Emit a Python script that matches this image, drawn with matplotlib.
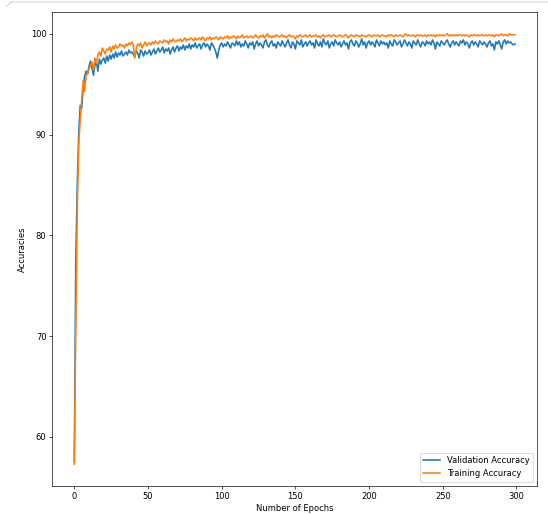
import numpy as np
import matplotlib.pyplot as plt
from matplotlib.lines import Line2D

# validation accuracy per epoch
val_acc = [
    57.5, 77.6, 85.0, 90.2, 92.9, 92.6, 94.5, 95.8, 96.3, 96.0, 96.8, 97.3, 96.6, 95.9, 96.9, 97.2, 96.3, 97.5, 97.0, 97.4,
    97.6, 97.1, 97.8, 97.3, 97.9, 97.5, 98.0, 97.6, 98.2, 97.7, 98.1, 97.9, 98.3, 97.8, 98.0, 98.2, 97.9, 98.4, 98.1, 98.2,
    98.0, 97.7, 98.3, 98.1, 97.6, 98.4, 98.2, 97.8, 98.3, 98.0, 98.1, 98.4, 97.9, 98.2, 98.5, 98.0, 98.3, 98.6, 98.2, 98.4,
    98.7, 98.1, 98.5, 98.3, 98.6, 98.0, 98.4, 98.7, 98.2, 98.6, 98.8, 98.3, 98.7, 98.5, 98.9, 98.4, 98.8, 98.6, 99.0, 98.5,
    98.9, 98.7, 99.1, 98.6, 98.8, 99.0, 98.5, 98.9, 99.1, 98.7, 99.0, 98.8, 98.4, 99.1, 98.9, 98.6, 98.2, 97.6, 98.4, 98.9,
    99.1, 98.7, 99.0, 98.8, 99.2, 98.9, 98.6, 99.1, 99.0, 98.8, 99.3, 98.9, 99.2, 98.7, 99.0, 98.8, 99.3, 99.0, 98.6, 99.1,
    98.9, 99.2, 98.5, 99.0, 99.3, 98.8, 99.1, 98.9, 98.6, 99.2, 99.4, 98.9, 98.7, 99.1, 99.3, 98.8, 99.0, 98.6, 99.2, 99.0,
    98.8, 99.3, 99.0, 98.7, 99.1, 99.4, 98.9, 98.6, 99.2, 99.0, 98.5, 99.3, 99.1, 98.9, 99.4, 98.7, 99.0, 99.2, 98.8, 99.1,
    99.3, 98.9, 99.1, 98.6, 99.4, 99.0, 98.8, 99.2, 98.7, 99.5, 99.1, 98.9, 99.3, 98.6, 99.0, 99.2, 98.8, 99.4, 99.1, 98.9,
    99.2, 98.7, 99.0, 99.3, 98.9, 99.1, 98.5, 99.2, 99.4, 99.0, 98.8, 99.3, 99.1, 98.7, 99.0, 99.5, 98.9, 99.2, 98.6, 99.1,
    99.3, 98.9, 99.2, 99.0, 98.7, 99.4, 99.1, 98.8, 99.3, 99.0, 99.2, 98.9, 99.1, 98.6, 99.3, 99.0, 98.8, 99.4, 99.2, 98.9,
    99.1, 99.3, 98.7, 99.0, 99.4, 99.1, 98.8, 99.2, 99.0, 98.6, 99.3, 99.1, 98.9, 99.4, 99.0, 98.7, 99.2, 99.1, 98.8, 99.3,
    99.0, 99.2, 98.9, 99.4, 99.1, 98.5, 99.2, 99.0, 98.8, 99.3, 99.1, 98.9, 99.2, 99.4, 99.0, 98.7, 99.1, 99.3, 98.9, 99.2,
    99.0, 98.8, 99.3, 99.1, 99.4, 98.9, 99.2, 99.0, 98.6, 99.1, 99.3, 98.9, 99.2, 99.0, 98.7, 99.3, 99.1, 98.9, 99.2, 99.0,
    98.7, 99.1, 99.3, 98.8, 99.0, 98.4, 99.2, 99.0, 99.3, 98.9, 98.5, 99.2, 99.4, 99.0, 99.3, 99.1, 99.2, 99.0, 98.9, 99.0,
]

# training accuracy per epoch
train_acc = [
    57.3, 70.5, 82.5, 89.0, 91.5, 93.5, 95.4, 94.3, 95.8, 96.1, 96.5, 96.9, 97.2, 96.4, 97.6, 97.1, 97.9, 98.2, 97.8, 98.6,
    98.3, 98.0, 98.5, 98.4, 98.7, 98.2, 98.8, 98.5, 98.9, 98.6, 98.7, 99.0, 98.8, 98.9, 98.6, 99.0, 98.8, 99.1, 98.9, 99.2,
    98.9, 97.6, 98.5, 99.0, 98.8, 99.1, 98.6, 98.9, 99.2, 98.8, 99.0, 99.1, 98.9, 99.2, 99.0, 99.3, 99.1, 99.0, 99.3, 99.2,
    99.1, 99.4, 99.2, 99.3, 99.0, 99.4, 99.2, 99.5, 99.3, 99.2, 99.4, 99.3, 99.5, 99.2, 99.4, 99.6, 99.3, 99.5, 99.4, 99.6,
    99.5, 99.3, 99.6, 99.4, 99.5, 99.6, 99.4, 99.7, 99.5, 99.3, 99.6, 99.5, 99.7, 99.4, 99.6, 99.5, 99.7, 99.6, 99.4, 99.7,
    99.6, 99.5, 99.7, 99.6, 99.8, 99.5, 99.7, 99.6, 99.8, 99.7, 99.5, 99.8, 99.6, 99.7, 99.9, 99.6, 99.7, 99.8, 99.6, 99.7,
    99.8, 99.6, 99.7, 99.9, 99.7, 99.6, 99.8, 99.7, 99.9, 99.6, 99.8, 100.0, 99.7, 99.8, 99.6, 99.8, 99.7, 99.9, 99.8, 99.7,
    99.8, 99.9, 99.7, 99.8, 99.6, 99.8, 99.9, 99.7, 99.8, 99.7, 99.5, 99.8, 99.7, 99.9, 99.8, 99.7, 99.8, 99.9, 99.7, 99.8,
    99.9, 99.7, 99.8, 99.8, 99.9, 99.7, 99.8, 99.6, 99.8, 99.9, 99.7, 99.8, 99.8, 99.9, 99.7, 99.8, 99.9, 99.8, 99.7, 99.8,
    99.9, 99.8, 99.7, 99.8, 99.9, 99.8, 99.6, 99.8, 99.9, 99.8, 99.7, 99.9, 99.8, 99.8, 99.7, 99.9, 99.8, 99.8, 99.7, 99.8,
    99.9, 99.8, 99.7, 99.9, 99.8, 99.8, 99.9, 99.7, 99.8, 99.9, 99.8, 99.8, 99.7, 99.9, 99.8, 99.9, 99.8, 99.7, 99.9, 99.8,
    99.8, 99.9, 99.8, 99.7, 99.9, 100.0, 99.8, 99.9, 99.8, 99.8, 99.9, 99.7, 99.8, 99.9, 99.8, 99.9, 99.8, 99.8, 99.9, 99.7,
    99.9, 99.8, 99.9, 99.8, 99.9, 99.7, 99.9, 99.8, 99.9, 99.8, 99.9, 99.8, 99.9, 100.0, 99.8, 99.9, 99.8, 99.9, 99.8, 99.9,
    99.8, 99.9, 99.9, 99.8, 99.9, 99.8, 99.9, 99.8, 99.7, 99.9, 99.8, 99.9, 99.9, 99.8, 99.9, 99.8, 99.9, 99.9, 99.8, 99.9,
    99.8, 99.9, 99.9, 99.8, 99.9, 99.7, 99.9, 99.9, 99.8, 99.9, 100.0, 99.8, 99.9, 99.9, 99.8, 100.0, 99.9, 99.9, 99.9, 99.9,
]

epochs = np.arange(len(val_acc))


def main():
    dpi = 60
    fig = plt.figure(figsize=(548 / dpi, 514 / dpi), dpi=dpi)

    # light notebook output border along the top edge
    top = 1 - 2 / 514
    fig.add_artist(Line2D([0.012, 0.02, 1.0], [top - 0.008, top, top],
                          transform=fig.transFigure, color='#d0d0d0', linewidth=1.2))

    ax = fig.add_axes([0.0954, 0.055, 0.8846, 0.921])
    ax.plot(epochs, val_acc, linewidth=1.9, label='Validation Accuracy')
    ax.plot(epochs, train_acc, linewidth=1.9, label='Training Accuracy')

    ax.set_xlabel('Number of Epochs')
    ax.set_ylabel('Accuracies')
    ax.legend(loc='lower right')

    fig.savefig('out.png', dpi=dpi)


if __name__ == "__main__":
    main()
